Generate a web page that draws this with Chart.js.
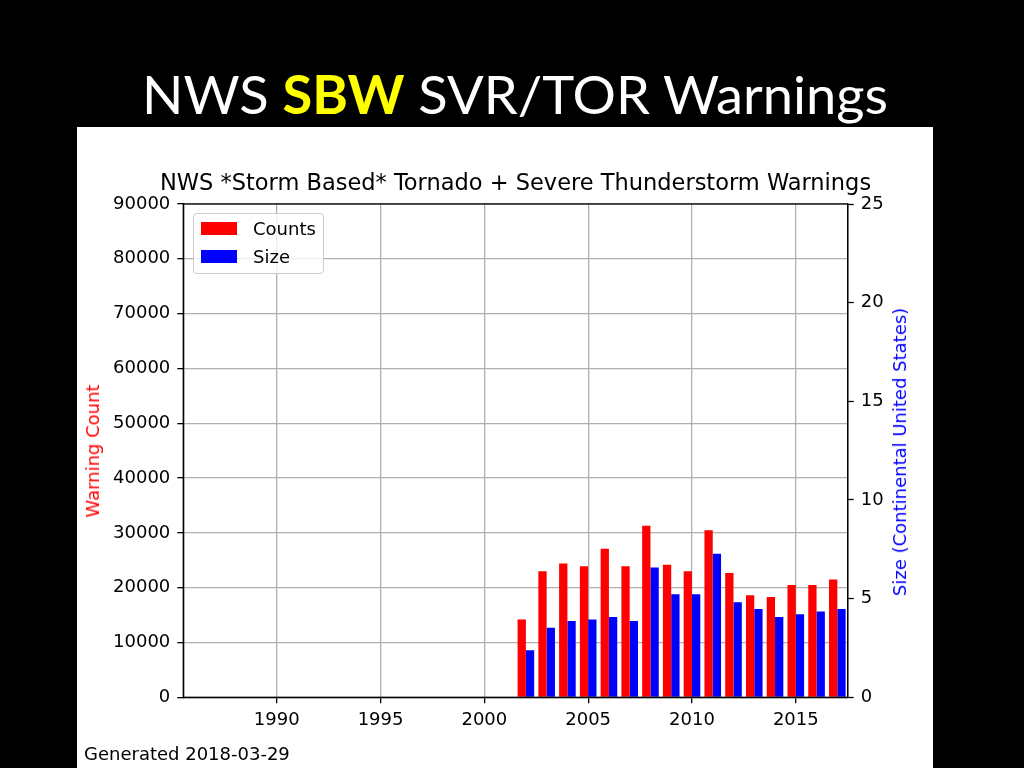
<!DOCTYPE html>
<html>
<head>
<meta charset="utf-8">
<script src="https://cdn.jsdelivr.net/npm/chart.js@4.4.1/dist/chart.umd.min.js"></script>
<style>
  html, body { margin:0; padding:0; background:#000; width:1024px; height:768px; overflow:hidden; }
  #slideTitle { position:absolute; left:142px; top:67px; white-space:nowrap; font-family:Lato, "Noto Sans", sans-serif;
                font-size:53px; line-height:53px; color:#fff; transform-origin:0 0; }
  #slideTitle b { color:#ffff00; font-weight:bold; }
  #panel { position:absolute; left:77px; top:127px; width:856px; height:641px; background:#fff; }
  #chartBox { position:absolute; left:0; top:0; width:856px; height:641px; }
  #legend { position:absolute; left:116px; top:86px; width:129px; height:59px; border:1px solid #cccccc; border-radius:4px;
            background:rgba(255,255,255,0.8); font-family:"DejaVu Sans", sans-serif; font-size:18px; color:#000; }
  .lg-row { position:absolute; left:0; height:20px; line-height:20px; white-space:nowrap; }
  .lg-sw { position:absolute; left:7px; width:36px; height:13px; top:3px; }
  .lg-tx { position:absolute; left:59px; top:0; }
  .axTitle { position:absolute; transform:translate(-50%,-50%) rotate(-90deg); white-space:nowrap;
             font-family:"DejaVu Sans", sans-serif; font-size:18px; line-height:22px; }
  #leftTitle { left:16px; top:324px; color:#ff0000; }
  #rightTitle { left:823px; top:325px; color:#0000ff; }
  #generated { position:absolute; left:7px; top:616px; font-family:"DejaVu Sans", sans-serif; font-size:18px; line-height:22px; color:#000; white-space:nowrap; }
</style>
</head>
<body>
<div id="slideTitle">NWS <b>SBW</b> SVR/TOR Warnings</div>
<div id="panel">
  <div id="chartBox"><canvas id="c"></canvas></div>
  <div id="legend"></div>
  <div id="leftTitle" class="axTitle">Warning Count</div>
  <div id="rightTitle" class="axTitle">Size (Continental United States)</div>
  <div id="generated">Generated 2018-03-29</div>
</div>
<script>
// ---- data ----
const years  = [2002, 2003, 2004, 2005, 2006, 2007, 2008, 2009, 2010, 2011, 2012, 2013, 2014, 2015, 2016, 2017];
const counts = [14200, 23000, 24400, 23900, 27100, 23900, 31300, 24200, 23000, 30500, 22700, 18600, 18300, 20500, 20500, 21500];
const sizes  = [2.38, 3.53, 3.87, 3.94, 4.07, 3.87, 6.58, 5.22, 5.22, 7.27, 4.82, 4.48, 4.07, 4.21, 4.35, 4.48];
const xTicks = [1990, 1995, 2000, 2005, 2010, 2015];
const countTicks = [0, 10000, 20000, 30000, 40000, 50000, 60000, 70000, 80000, 90000];
const sizeTicks = [0, 5, 10, 15, 20, 25];

const chartTitle = 'NWS *Storm Based* Tornado + Severe Thunderstorm Warnings';
const countLabel = 'Counts';
const sizeLabel = 'Size';

const FONT = 'DejaVu Sans';
const tickFont = { family: FONT, size: 18 };
const gridColor = '#b0b0b0';

const frame = {
  id: 'frame',
  afterDatasetsDraw(chart) {
    const { ctx, chartArea: a } = chart;
    ctx.save();
    ctx.strokeStyle = '#000';
    ctx.lineWidth = 1.3;
    ctx.strokeRect(a.left, a.top, a.right - a.left, a.bottom - a.top);
    ctx.restore();
  }
};

const chart = new Chart(document.getElementById('c'), {
  type: 'bar',
  data: {
    datasets: [
      { label: countLabel, data: years.map((y, i) => ({ x: y, y: counts[i] })), backgroundColor: '#ff0000', yAxisID: 'y',
        categoryPercentage: 0.8, barPercentage: 1.0, borderWidth: 0 },
      { label: sizeLabel, data: years.map((y, i) => ({ x: y, y: sizes[i] })), backgroundColor: '#0000ff', yAxisID: 'y1',
        categoryPercentage: 0.8, barPercentage: 1.0, borderWidth: 0 }
    ]
  },
  options: {
    responsive: true,
    maintainAspectRatio: false,
    animation: false,
    layout: { padding: { left: 21, right: 0, top: 0, bottom: 0 } },
    plugins: {
      legend: { display: false },
      tooltip: { enabled: false },
      title: {
        display: true, text: chartTitle, color: '#000',
        font: { family: FONT, size: 22.5, weight: 'normal', lineHeight: 1.2 },
        padding: { top: 43.6, bottom: 6.4 }
      }
    },
    scales: {
      x: {
        type: 'linear', min: 1985.5, max: 2017.5, offset: false,
        afterBuildTicks: s => { s.ticks = xTicks.map(v => ({ value: v })); },
        afterFit: s => { s.height = 70.7; },
        grid: { offset: false, color: gridColor, lineWidth: 1.3, tickLength: 6, tickColor: '#000', tickWidth: 1.3 },
        border: { color: '#000', width: 1.3 },
        ticks: { color: '#000', font: tickFont, padding: 6, maxRotation: 0, autoSkip: false, callback: v => String(v) }
      },
      y: {
        type: 'linear', position: 'left', min: 0, max: 90000,
        afterBuildTicks: s => { s.ticks = countTicks.map(v => ({ value: v })); },
        afterFit: s => { s.width = 85.3; },
        grid: { color: gridColor, lineWidth: 1.3, tickLength: 6, tickColor: '#000', tickWidth: 1.3 },
        border: { color: '#000', width: 1.3 },
        ticks: { color: '#000', font: tickFont, padding: 7, callback: v => String(v) }
      },
      y1: {
        type: 'linear', position: 'right', min: 0, max: 25,
        afterBuildTicks: s => { s.ticks = sizeTicks.map(v => ({ value: v })); },
        afterFit: s => { s.width = 85.3; },
        grid: { drawOnChartArea: false, tickLength: 6, tickColor: '#000', tickWidth: 1.3 },
        border: { color: '#000', width: 1.3 },
        ticks: { color: '#000', font: tickFont, padding: 7, callback: v => String(v) }
      }
    }
  },
  plugins: [frame]
});

// HTML legend built from the datasets
const legend = document.getElementById('legend');
chart.data.datasets.forEach((ds, i) => {
  const row = document.createElement('div');
  row.className = 'lg-row';
  row.style.top = (i === 0 ? 4.5 : 32.5) + 'px';
  row.innerHTML = '<span class="lg-sw" style="background:' + ds.backgroundColor + '"></span><span class="lg-tx">' + ds.label + '</span>';
  legend.appendChild(row);
});

// fit slide title width to the reference
const fitTitle = () => {
  const t = document.getElementById('slideTitle');
  t.style.transform = 'none';
  const w = t.getBoundingClientRect().width;
  t.style.transform = 'scaleX(' + (746 / w) + ')';
};
fitTitle();
if (document.fonts && document.fonts.ready) document.fonts.ready.then(() => { fitTitle(); chart.update(); });
</script>
</body>
</html>
